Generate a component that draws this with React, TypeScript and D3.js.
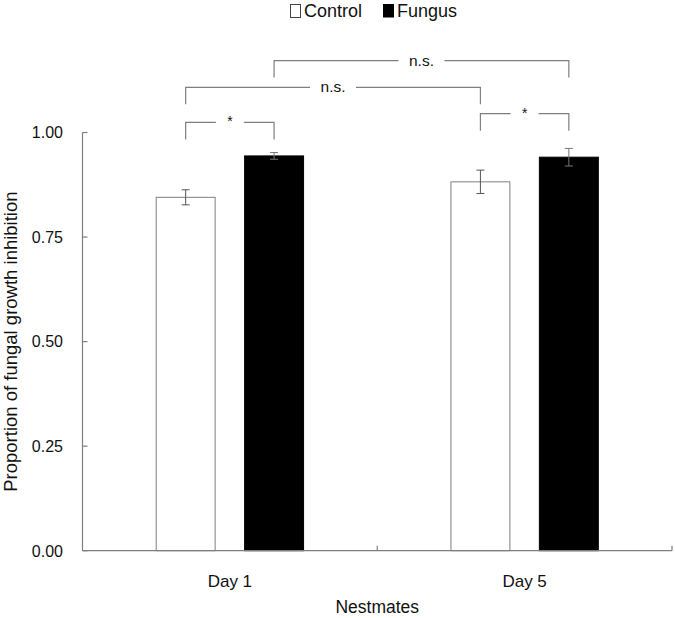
import * as d3 from "d3";
import React from "react";

// values
const days = ["Day 1", "Day 5"];
const groups = ["Control", "Fungus"];
const controlMean = [0.845, 0.882];
const controlErr = [0.018, 0.028];
const fungusMean = [0.944, 0.941];
const fungusErr = [0.008, 0.021];
const yTicks = [0, 0.25, 0.5, 0.75, 1.0];

// significance brackets: [day, group] -> [day, group], level in data units
const brackets = [
  { a: [0, "Control"], b: [0, "Fungus"], level: 1.024, label: "*" },
  { a: [1, "Control"], b: [1, "Fungus"], level: 1.045, label: "*" },
  { a: [0, "Control"], b: [1, "Control"], level: 1.108, label: "n.s." },
  { a: [0, "Fungus"], b: [1, "Fungus"], level: 1.172, label: "n.s." },
];

const W = 675;
const H = 618;
const left = 82.5;
const right = 672;
const top = 132.5;
const bottom = 550.7;
const font = "'Liberation Sans', Arial, sans-serif";
const grey = "#7f7f7f";

const App: React.FC = () => {
  const x0 = d3.scaleBand().domain(days).range([left, right]).padding(0);
  const bw = x0.bandwidth();
  const x1 = d3
    .scaleBand()
    .domain(groups)
    .range([bw * 0.25, bw * 0.75])
    .paddingInner(1 / 3)
    .paddingOuter(0);
  const y = d3.scaleLinear().domain([0, 1]).range([bottom, top]);

  const rows = days.flatMap((d, i) => [
    { day: d, group: "Control", mean: controlMean[i], err: controlErr[i] },
    { day: d, group: "Fungus", mean: fungusMean[i], err: fungusErr[i] },
  ]);

  const cx = (dayIdx: number, g: string) =>
    (x0(days[dayIdx]) as number) + (x1(g) as number) + x1.bandwidth() / 2;

  return (
    <svg width={W} height={H} style={{ display: "block", position: "absolute", left: 0, top: 0 }}>
      <rect width={W} height={H} fill="#fff" />

      {/* legend */}
      <g fontFamily={font} fontSize={18} fill="#111">
        <rect x={290.5} y={4.5} width={10} height={13} fill="#fff" stroke="#444" strokeWidth={1} />
        <text x={304} y={17}>Control</text>
        <rect x={383} y={4} width={11} height={13.5} fill="#000" />
        <text x={397} y={17}>Fungus</text>
      </g>

      {/* bars */}
      {rows.map((r) => {
        const bx = (x0(r.day) as number) + (x1(r.group) as number);
        const c = bx + x1.bandwidth() / 2;
        return (
          <g key={r.day + r.group}>
            <rect
              x={bx}
              y={y(r.mean)}
              width={x1.bandwidth()}
              height={bottom - y(r.mean)}
              fill={r.group === "Control" ? "#fff" : "#000"}
              stroke={r.group === "Control" ? grey : "#000"}
              strokeWidth={1}
            />
            <g stroke={r.group === "Control" ? "#555" : "#777"} strokeWidth={1}>
              <line x1={c} x2={c} y1={y(r.mean + r.err)} y2={y(r.mean - r.err)} />
              <line x1={c - 4} x2={c + 4} y1={y(r.mean + r.err)} y2={y(r.mean + r.err)} />
              <line x1={c - 4} x2={c + 4} y1={y(r.mean - r.err)} y2={y(r.mean - r.err)} />
            </g>
          </g>
        );
      })}

      {/* y axis */}
      <g stroke={grey} strokeWidth={1.2}>
        <line x1={left} x2={left} y1={top} y2={bottom} />
        {yTicks.map((t) => (
          <line key={t} x1={left} x2={left + 5} y1={y(t)} y2={y(t)} />
        ))}
      </g>
      <g fontFamily={font} fontSize={16} fill="#111" textAnchor="end">
        {yTicks.map((t) => (
          <text key={t} x={63} y={y(t) + 5.8}>
            {d3.format(".2f")(t)}
          </text>
        ))}
      </g>
      <text
        transform={`translate(16.5,${(top + bottom) / 2}) rotate(-90)`}
        textAnchor="middle"
        fontFamily={font}
        fontSize={18.5}
        fill="#111"
      >
        Proportion of fungal growth inhibition
      </text>

      {/* x axis */}
      <g stroke={grey} strokeWidth={1.2}>
        <line x1={left} x2={right} y1={bottom} y2={bottom} />
        {days.map((d) => (
          <line
            key={d}
            x1={(x0(d) as number) + bw}
            x2={(x0(d) as number) + bw}
            y1={bottom}
            y2={bottom - 5}
          />
        ))}
      </g>
      <g fontFamily={font} fill="#111" textAnchor="middle">
        {days.map((d) => (
          <text key={d} x={(x0(d) as number) + bw / 2} y={587} fontSize={17}>
            {d}
          </text>
        ))}
        <text x={(left + right) / 2} y={613} fontSize={17.5}>
          Nestmates
        </text>
      </g>

      {/* significance brackets */}
      {brackets.map((b, i) => {
        const xa = cx(b.a[0] as number, b.a[1] as string);
        const xb = cx(b.b[0] as number, b.b[1] as string);
        const yl = y(b.level);
        const mid = (xa + xb) / 2;
        const half = b.label === "*" ? 14 : 23;
        return (
          <g key={i}>
            <path
              d={`M${xa},${yl + 17}V${yl}H${mid - half}M${mid + half},${yl}H${xb}V${yl + 17}`}
              fill="none"
              stroke={grey}
              strokeWidth={1.2}
            />
            <text
              x={mid}
              y={b.label === "*" ? yl + 4 : yl + 5}
              textAnchor="middle"
              fontFamily={font}
              fontSize={b.label === "*" ? 14 : 15.5}
              fill="#111"
            >
              {b.label}
            </text>
          </g>
        );
      })}
    </svg>
  );
};

export default App;
